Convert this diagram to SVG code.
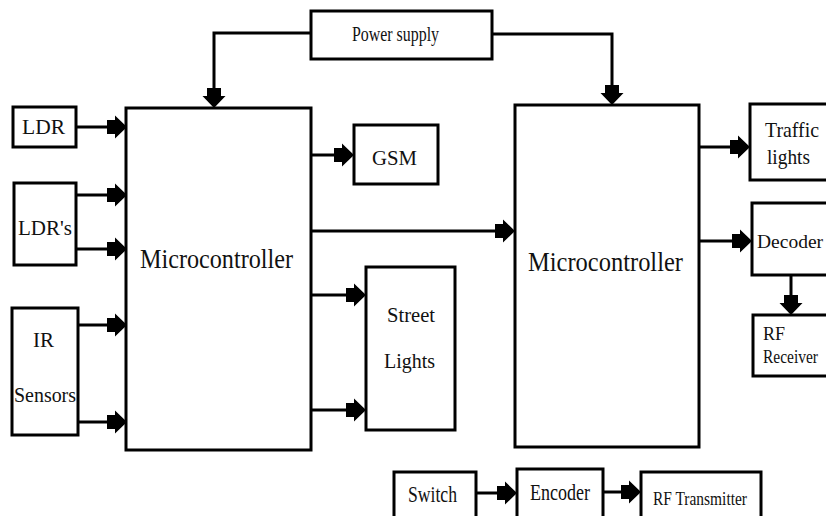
<svg xmlns="http://www.w3.org/2000/svg" width="826" height="516" viewBox="0 0 826 516">
<style>
.box{fill:#fff;stroke:#000;stroke-width:3}
.wire{fill:none;stroke:#000;stroke-width:3}
text{font-family:"Liberation Serif","Times New Roman",serif;fill:#111}
</style>
<defs>
<marker id="ah" markerUnits="userSpaceOnUse" viewBox="0 0 20 24" markerWidth="20" markerHeight="24" refX="8" refY="12" orient="auto">
<path d="M0,5 L8,5 L8,0.5 L20,12 L8,23.5 L8,19 L0,19 Z" fill="#000"/>
</marker>
</defs>
<rect width="826" height="516" fill="#fff"/>
<g id="connectors">
<path class="wire" marker-end="url(#ah)" d="M76,127 H115"/>
<path class="wire" marker-end="url(#ah)" d="M76,195 H115"/>
<path class="wire" marker-end="url(#ah)" d="M76,249 H115"/>
<path class="wire" marker-end="url(#ah)" d="M78,325 H115"/>
<path class="wire" marker-end="url(#ah)" d="M78,422 H115"/>
<path class="wire" marker-end="url(#ah)" d="M311,33 H214 V96"/>
<path class="wire" marker-end="url(#ah)" d="M492,34 H612 V93"/>
<path class="wire" marker-end="url(#ah)" d="M311,155 H342"/>
<path class="wire" marker-end="url(#ah)" d="M311,231 H503"/>
<path class="wire" marker-end="url(#ah)" d="M311,295 H354"/>
<path class="wire" marker-end="url(#ah)" d="M311,410 H354"/>
<path class="wire" marker-end="url(#ah)" d="M699,147 H738"/>
<path class="wire" marker-end="url(#ah)" d="M699,241 H740"/>
<path class="wire" marker-end="url(#ah)" d="M791,275 V303"/>
<path class="wire" marker-end="url(#ah)" d="M476,493 H505"/>
<path class="wire" marker-end="url(#ah)" d="M603,492 H629"/>
</g>
<g id="power-supply"><rect class="box" x="311" y="11" width="181" height="48"/><text x="352" y="41" font-size="20" textLength="87" lengthAdjust="spacingAndGlyphs">Power supply</text></g>
<g id="ldr"><rect class="box" x="13" y="107" width="63" height="40"/><text x="22" y="134" font-size="22" textLength="43" lengthAdjust="spacingAndGlyphs">LDR</text></g>
<g id="ldrs"><rect class="box" x="14" y="183" width="62" height="82"/><text x="18" y="235" font-size="22" textLength="54" lengthAdjust="spacingAndGlyphs">LDR's</text></g>
<g id="ir-sensors"><rect class="box" x="12" y="308" width="66" height="127"/><text x="33" y="347" font-size="22" textLength="21" lengthAdjust="spacingAndGlyphs">IR</text><text x="14" y="402" font-size="22" textLength="62" lengthAdjust="spacingAndGlyphs">Sensors</text></g>
<g id="mc-left"><rect class="box" x="126" y="108" width="185" height="342"/><text x="140" y="268" font-size="28" textLength="153" lengthAdjust="spacingAndGlyphs">Microcontroller</text></g>
<g id="gsm"><rect class="box" x="354" y="125" width="84" height="59"/><text x="372" y="165" font-size="22" textLength="45" lengthAdjust="spacingAndGlyphs">GSM</text></g>
<g id="street-lights"><rect class="box" x="366" y="267" width="89" height="163"/><text x="387" y="322" font-size="22" textLength="48" lengthAdjust="spacingAndGlyphs">Street</text><text x="384" y="368" font-size="22" textLength="51" lengthAdjust="spacingAndGlyphs">Lights</text></g>
<g id="mc-right"><rect class="box" x="515" y="105" width="184" height="342"/><text x="528" y="271" font-size="28" textLength="155" lengthAdjust="spacingAndGlyphs">Microcontroller</text></g>
<g id="traffic-lights"><rect class="box" x="750" y="104" width="80" height="76"/><text x="765" y="137" font-size="22" textLength="54" lengthAdjust="spacingAndGlyphs">Traffic</text><text x="767" y="164" font-size="22" textLength="43" lengthAdjust="spacingAndGlyphs">lights</text></g>
<g id="decoder"><rect class="box" x="752" y="203" width="78" height="72"/><text x="757" y="248" font-size="19.5">Decoder</text></g>
<g id="rf-receiver"><rect class="box" x="753" y="315" width="77" height="61"/><text x="763" y="340" font-size="18" textLength="22" lengthAdjust="spacingAndGlyphs">RF</text><text x="763" y="363" font-size="18" textLength="55" lengthAdjust="spacingAndGlyphs">Receiver</text></g>
<g id="switch"><rect class="box" x="394" y="472" width="82" height="50"/><text x="408" y="502" font-size="23" textLength="49" lengthAdjust="spacingAndGlyphs">Switch</text></g>
<g id="encoder"><rect class="box" x="517" y="469" width="86" height="53"/><text x="530" y="500" font-size="23" textLength="60" lengthAdjust="spacingAndGlyphs">Encoder</text></g>
<g id="rf-transmitter"><rect class="box" x="641" y="472" width="120" height="50"/><text x="653" y="505" font-size="19" textLength="94" lengthAdjust="spacingAndGlyphs">RF Transmitter</text></g>
</svg>
